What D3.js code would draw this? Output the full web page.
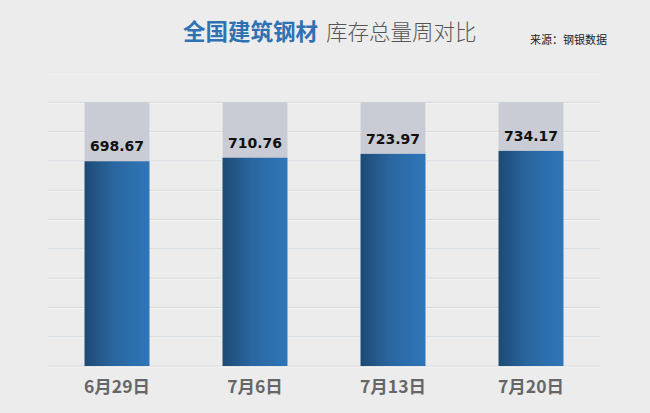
<!DOCTYPE html>
<html><head><meta charset="utf-8">
<script src="https://cdn.jsdelivr.net/npm/d3@7/dist/d3.min.js"></script>
<style>html,body{margin:0;padding:0;background:#ececec;}svg{display:block;}</style>
</head><body>
<script>
const categories = ["6月29日","7月6日","7月13日","7月20日"];
const values = [698.67, 710.76, 723.97, 734.17];
const backValue = 900;
const yTicks = [0,100,200,300,400,500,600,700,800,900,1000];

const W = 650, H = 413;
const svg = d3.select("body").append("svg").attr("width", W).attr("height", H);
svg.append("rect").attr("width", W).attr("height", H).attr("fill", "#ececec");

const defs = svg.append("defs");
const g1 = defs.append("linearGradient").attr("id","barGrad").attr("x1","0").attr("x2","1").attr("y1","0").attr("y2","0");
g1.append("stop").attr("offset","0%").attr("stop-color","#1d4a74");
g1.append("stop").attr("offset","45%").attr("stop-color","#2a66a0");
g1.append("stop").attr("offset","100%").attr("stop-color","#2f76b8");

const x = d3.scaleBand().domain(categories).range([48, 600]).paddingInner(0.53).paddingOuter(0.265);
const y = d3.scaleLinear().domain([0, 1000]).range([366, 73]);

// gridlines
const grid = svg.append("g");
grid.selectAll("line.w").data(yTicks).join("line")
  .attr("x1", 48).attr("x2", 600).attr("y1", d => y(d)+1).attr("y2", d => y(d)+1)
  .attr("stroke", "#f6f6f6").attr("stroke-width", 1);
grid.selectAll("line.g").data(yTicks).join("line")
  .attr("x1", 48).attr("x2", 600).attr("y1", d => y(d)).attr("y2", d => y(d))
  .attr("stroke", d => d === 1000 ? "#e4e6e9" : "#d6dade").attr("stroke-width", 1);

// background bars
svg.selectAll("rect.back").data(categories).join("rect").attr("class","back")
  .attr("x", d => x(d)).attr("width", x.bandwidth())
  .attr("y", y(backValue)).attr("height", y(0) - y(backValue))
  .attr("fill", "#c9ccd4");

// value bars
svg.selectAll("rect.val").data(values).join("rect").attr("class","val")
  .attr("x", (d,i) => x(categories[i])).attr("width", x.bandwidth())
  .attr("y", d => y(d)).attr("height", d => y(0) - y(d))
  .attr("fill", "url(#barGrad)");

// value labels
svg.selectAll("text.val").data(values).join("text").attr("class","val")
  .attr("x", (d,i) => x(categories[i]) + x.bandwidth()/2)
  .attr("y", d => y(d) - 10)
  .attr("text-anchor","middle")
  .attr("font-family","DejaVu Sans").attr("font-weight","bold").attr("font-size", 14)
  .attr("fill","#111").text(d => d.toFixed(2));

// category axis
const xAxis = svg.append("g").attr("transform", "translate(0,366)")
  .call(d3.axisBottom(x).tickSize(0).tickPadding(15));
xAxis.select(".domain").remove();
xAxis.selectAll("text").attr("font-family","'Noto Sans CJK SC'").attr("font-weight","bold")
  .attr("font-size", 17.5).attr("fill","#666");

// title
const t = svg.append("text").attr("y", 40).attr("font-family","'Noto Sans CJK SC'");
t.append("tspan").attr("x", 183).attr("font-weight","bold").attr("font-size", 22.5).attr("fill","#2f72b3").text("全国建筑钢材");
t.append("tspan").attr("dx", 8).attr("font-weight","300").attr("font-size", 21.5).attr("fill","#555").text("库存总量周对比");

svg.append("text").attr("x", 530).attr("y", 44).attr("font-family","'Noto Sans CJK SC'")
  .attr("font-size", 11).attr("fill","#222").text("来源：钢银数据");
</script>
</body></html>
